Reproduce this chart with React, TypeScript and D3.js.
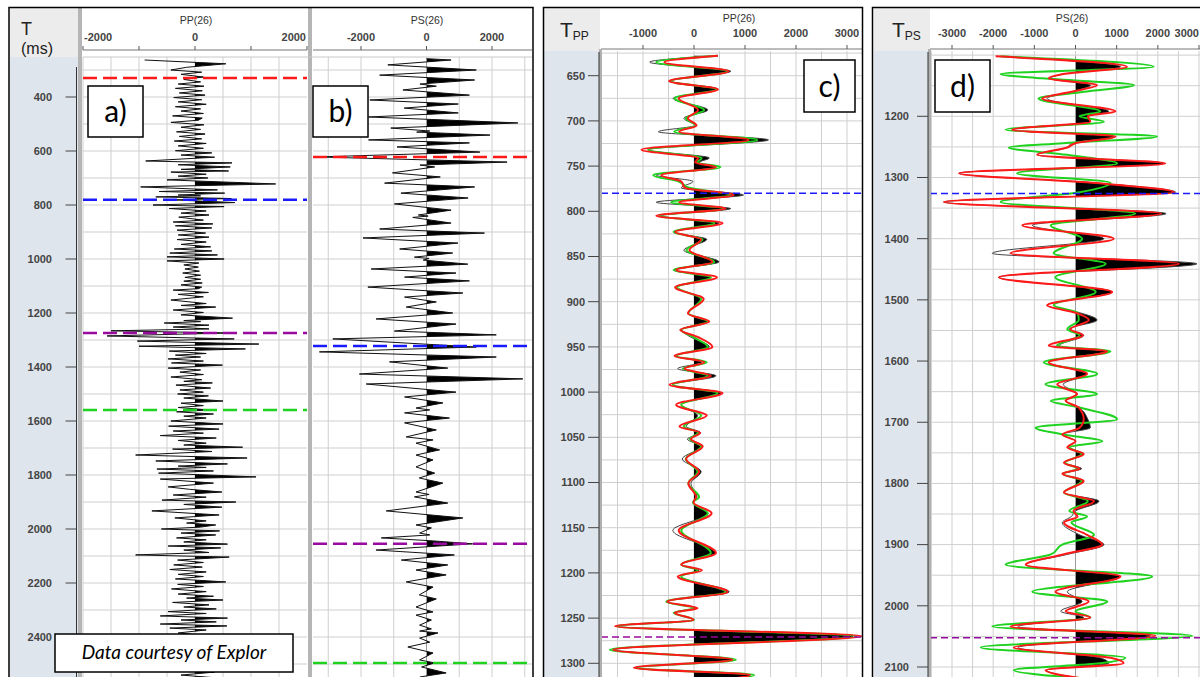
import React from "react";
import * as d3 from "d3";

type Pt = [number, number];

// panel a: PP trace (time ms, amplitude)
const aTrace: Pt[] = [
  [263,-900],[277,550],[290,-150],[300,-430],[308,120],[316,-250],[326,150],[335,-200],[344,100],[352,-300],
  [360,160],[368,-350],[377,130],[385,-280],[393,180],[402,-380],[410,120],[418,-300],[427,200],[436,-350],
  [444,100],[452,-250],[461,150],[470,-400],[478,130],[486,60],[494,-430],[503,160],[512,-250],[520,100],
  [529,-330],[537,180],[546,-280],[555,120],[563,-370],[572,200],[581,-300],[590,150],[599,-350],[607,300],
  [615,-250],[623,350],[637,-880],[644,660],[651,-300],[659,630],[668,-250],[674,600],[678,-430],[686,200],
  [693,-300],[700,230],[707,-500],[722,1440],[733,-970],[744,400],[750,-640],[756,530],[763,-300],[766,100],
  [770,-700],[776,650],[781,-400],[791,710],[800,-750],[806,520],[813,-460],[822,200],[830,-250],[837,250],
  [845,-290],[856,150],[863,-390],[870,320],[877,-350],[885,300],[893,-320],[904,190],[911,-300],[919,250],
  [928,-320],[937,200],[946,-250],[955,280],[963,-370],[970,300],[978,-450],[985,400],[992,-500],[1000,520],
  [1007,-500],[1015,70],[1022,-200],[1030,60],[1037,-180],[1045,80],[1052,-220],[1060,100],[1068,-180],[1075,100],
  [1082,-200],[1089,130],[1096,-250],[1104,120],[1110,60],[1115,-390],[1124,240],[1131,-300],[1140,150],[1152,-430],
  [1165,200],[1172,-250],[1178,370],[1189,-390],[1198,150],[1207,-250],[1219,670],[1228,-200],[1232,100],[1237,-550],
  [1245,250],[1252,-390],[1259,250],[1266,-1500],[1274,600],[1285,-1570],[1296,700],[1304,-1030],[1315,1140],[1323,-1000],
  [1333,900],[1341,-460],[1350,200],[1356,-350],[1363,100],[1370,-480],[1378,150],[1385,-420],[1393,490],[1404,-480],
  [1411,100],[1419,-270],[1428,150],[1437,-430],[1447,120],[1453,-200],[1459,310],[1467,-340],[1478,280],[1485,-270],
  [1493,150],[1500,-310],[1507,240],[1515,-200],[1526,500],[1534,-250],[1543,150],[1550,-300],[1559,250],[1566,-330],
  [1574,330],[1582,-200],[1589,200],[1600,-430],[1611,500],[1619,-470],[1630,430],[1637,-390],[1645,150],[1654,-620],
  [1663,380],[1672,-300],[1682,200],[1689,-200],[1697,850],[1704,-400],[1713,300],[1726,-1060],[1737,930],[1748,-700],
  [1759,580],[1767,-300],[1772,200],[1778,-680],[1785,330],[1793,-650],[1807,1090],[1815,-620],[1830,330],[1844,-480],
  [1853,-100],[1863,480],[1874,-390],[1882,200],[1893,-590],[1900,730],[1909,-200],[1919,480],[1933,-770],[1948,430],
  [1959,-360],[1970,200],[1978,-150],[1985,370],[1993,100],[2000,-600],[2007,440],[2015,-250],[2022,370],[2033,-330],
  [2040,200],[2048,-200],[2056,580],[2063,-480],[2070,460],[2078,-200],[2087,250],[2096,-1060],[2104,610],[2115,-310],
  [2124,150],[2133,-380],[2141,130],[2150,-450],[2159,200],[2168,-300],[2176,150],[2185,-350],[2196,550],[2205,-310],
  [2213,150],[2222,-420],[2232,200],[2241,-300],[2249,330],[2256,-150],[2263,500],[2272,-400],[2281,250],[2289,-200],
  [2296,380],[2306,-480],[2313,200],[2322,-620],[2330,580],[2337,-250],[2344,380],[2352,-620],[2359,570],[2367,-450],
  [2374,200],[2385,-300],[2396,250],[2407,-350],[2418,200],[2430,-300],[2441,250],[2452,-250],[2463,300],[2474,-350],
  [2485,200],[2496,-250],[2507,250],[2518,-300],[2530,350],[2541,-250],[2550,300],
];

// panel b: PS trace
const bTrace: Pt[] = [
  [258,0],[263,750],[281,-1180],[300,1520],[319,-1430],[337,1470],[352,-200],[360,300],[374,-720],[393,1310],
  [411,-1730],[426,970],[441,-680],[459,970],[474,-1770],[496,2790],[515,-1090],[526,100],[530,-300],[541,1940],
  [559,-1770],[570,1310],[585,-900],[604,1630],[622,-3330],[641,2460],[652,-200],[659,250],[681,-1040],[696,420],
  [719,-1280],[733,1470],[756,-780],[774,1270],[796,-980],[819,750],[837,-250],[841,50],[846,-420],[867,750],
  [889,-1430],[904,1770],[922,-1940],[941,960],[963,-820],[978,800],[993,-370],[998,80],[1004,-100],[1019,1260],
  [1037,-1690],[1052,900],[1067,-670],[1081,1310],[1104,-1790],[1126,1110],[1141,-670],[1159,300],[1178,-620],[1200,800],
  [1222,-1540],[1241,900],[1267,-980],[1281,2130],[1296,-2860],[1326,1520],[1344,-3270],[1363,2130],[1381,-1130],[1404,650],
  [1426,-2050],[1444,2940],[1463,-1840],[1493,900],[1511,-670],[1533,500],[1552,-320],[1559,100],[1570,-670],[1589,700],
  [1607,-670],[1633,300],[1659,-620],[1670,200],[1682,-320],[1707,400],[1726,-320],[1744,200],[1770,-320],[1793,250],
  [1811,-220],[1830,500],[1863,-320],[1872,80],[1881,-370],[1904,650],[1933,-1230],[1959,1110],[1985,-320],[1996,150],
  [2015,-210],[2022,100],[2033,-1380],[2044,200],[2055,1410],[2078,-1540],[2096,850],[2115,-770],[2133,650],[2152,-320],
  [2170,600],[2196,-620],[2215,200],[2244,-220],[2259,300],[2289,-320],[2307,200],[2319,-320],[2337,150],[2356,-210],
  [2370,150],[2378,-210],[2385,350],[2404,-210],[2419,100],[2437,-570],[2459,200],[2485,-210],[2496,250],[2511,-150],
  [2533,600],[2548,-200],
];

// panel c: PP real (black), red and green modelled traces
const cTimes = [628,635,645,656,665,675,688,697,705,712,721,732,741,746,751,760,767,774,782,790,797,805,813,823,831,843,856,865,873,884,897,913,922,931,939,950,960,967,974,982,992,1001,1014,1026,1038,1045,1052,1060,1074,1088,1101,1116,1122,1134,1153,1178,1191,1197,1204,1221,1232,1239,1244,1252,1259,1270,1285,1296,1305,1313,1322];
const cBlack = [470,-870,720,-450,470,-410,270,-200,20,-700,1460,-900,300,100,430,-740,-20,-250,970,-740,720,-640,490,-400,250,-200,490,-400,330,-330,140,-110,270,-250,-70,300,-350,150,-320,430,-415,525,-250,70,-150,130,-130,140,-230,140,-60,60,-20,270,-415,430,-250,100,-300,690,-520,60,-380,-20,-1500,3120,-1550,760,-1150,1100,-500];
const cRed = [470,-580,680,-490,470,-300,80,-120,50,-290,1070,-1030,80,20,430,-640,-250,-180,780,-290,620,-740,560,-370,140,-90,360,-350,450,-370,190,-120,300,-270,70,360,-380,200,-190,330,-480,560,-350,250,-285,120,-60,170,-155,100,-110,40,-10,345,-300,430,-250,155,-320,660,-525,70,-380,-10,-1550,3290,-1585,755,-1180,1100,-500];
const cGreen = [470,-740,650,-470,440,-380,200,-160,30,-390,1240,-900,150,60,520,-800,-300,-100,720,-450,590,-680,400,-400,170,-150,400,-400,330,-330,140,-110,270,-250,-20,270,-350,250,-220,270,-415,460,-250,140,-200,80,-80,140,-160,70,-110,100,-20,270,-250,330,-250,70,-250,620,-545,10,-400,0,-1520,3190,-1650,820,-1130,1180,-500];

// panel d: PS real (black), red and green modelled traces
const dTimes = [1102,1119,1131,1138,1149,1160,1171,1192,1200,1209,1222,1233,1244,1251,1263,1277,1293,1309,1324,1340,1359,1378,1400,1424,1441,1463,1487,1509,1521,1533,1548,1558,1575,1584,1602,1621,1638,1654,1665,1676,1695,1709,1720,1731,1741,1752,1766,1776,1784,1796,1815,1829,1845,1854,1864,1884,1900,1916,1933,1952,1977,1993,2009,2019,2034,2049,2068,2085,2094,2105,2120];
const dBlack = [-1900,1090,-300,-610,365,-100,-690,810,300,360,-1540,930,-100,-200,-930,2140,-2830,500,2430,-3200,2200,-1050,690,-2020,2950,-1860,890,-690,100,525,-160,200,-400,730,-650,280,-300,40,-240,80,300,360,-320,0,-200,200,-280,150,-320,200,-280,570,0,-100,-320,100,690,-200,-1210,1090,-200,160,-360,200,-1400,1820,-1400,600,810,-700,300];
const dRed = [-1940,1250,-300,-650,525,-100,-810,970,300,360,-1540,970,0,-200,-930,2180,-2830,500,2390,-3200,2080,-1290,930,-1580,2510,-1860,890,-690,0,325,-120,180,-650,770,-650,280,-445,40,-240,80,200,100,-320,0,-200,200,-280,100,-320,200,-280,450,-50,50,-280,280,650,-300,-1210,1090,-485,320,-240,360,-1580,1940,-1500,850,1170,-730,300];
const dGreen = [-1820,1900,-1820,-800,1420,200,-900,600,100,690,-1700,1980,-300,-1620,-200,1010,-1420,850,100,-1820,1450,-600,160,-530,730,-490,490,-530,50,80,-200,100,-450,850,-770,525,-730,525,-600,100,1010,-970,-300,650,-150,150,-250,50,-300,150,-280,300,-150,280,-100,450,-320,-600,-1700,1860,-1050,770,0,360,-2020,2830,-2300,1210,600,-1500,500];

const abTimeTicks = [400,600,800,1000,1200,1400,1600,1800,2000,2200,2400];
const cTimeTicks = [650,700,750,800,850,900,950,1000,1050,1100,1150,1200,1250,1300];
const dTimeTicks = [1200,1300,1400,1500,1600,1700,1800,1900,2000,2100];

const RED = "#ff1a1a";
const GREEN = "#1fd21f";
const BLUE = "#1a1aff";
const PURPLE = "#9a0aa0";
const FONT = "'Liberation Sans', Arial, sans-serif";
const LABEL_FONT = "Lato, 'Open Sans', sans-serif";

interface Horizon { t: number; color: string }
interface Overlay { values: number[]; color: string }

interface TrackCfg {
  id: string;
  left: number; right: number; top: number; bottom: number;
  ampDomain: [number, number]; ampRange: [number, number];
  tDomain: [number, number]; tRange: [number, number];
  ampGrid: number; tGrid: number;
  ampTicks: number[]; ampLabels: number[];
  title: string; titleX: number; titleY: number; labelY: number; axisY: number;
  clampLabels: boolean;
  times: number[]; main: number[]; smooth: boolean;
  overlays: Overlay[];
  horizons: Horizon[];
  dash: string; dashWidth: number;
}

function Track({ cfg }: { cfg: TrackCfg }) {
  const x = d3.scaleLinear().domain(cfg.ampDomain).range(cfg.ampRange);
  const t = d3.scaleLinear().domain(cfg.tDomain).range(cfg.tRange);
  const aMin = x.invert(cfg.left), aMax = x.invert(cfg.right);
  const tMin = t.invert(cfg.top), tMax = t.invert(cfg.bottom);
  const vGrid = d3.range(Math.ceil(aMin / cfg.ampGrid) * cfg.ampGrid, aMax, cfg.ampGrid);
  const hGrid = d3.range(Math.ceil(tMin / cfg.tGrid) * cfg.tGrid, tMax, cfg.tGrid);
  const curve = cfg.smooth ? d3.curveMonotoneY : d3.curveLinear;
  const idx = cfg.times.map((_, i) => i);
  const linePath = (vals: number[]) =>
    d3.line<number>().x((i) => x(vals[i])).y((i) => t(cfg.times[i])).curve(curve)(idx) ?? "";
  const areaPath =
    d3.area<number>().y((i) => t(cfg.times[i])).x0(x(0)).x1((i) => x(cfg.main[i])).curve(curve)(idx) ?? "";

  return (
    <g>
      <defs>
        <clipPath id={`${cfg.id}-box`}>
          <rect x={cfg.left} y={cfg.top} width={cfg.right - cfg.left} height={cfg.bottom - cfg.top} />
        </clipPath>
        <clipPath id={`${cfg.id}-pos`}>
          <rect x={x(0)} y={cfg.top} width={cfg.right - x(0)} height={cfg.bottom - cfg.top} />
        </clipPath>
      </defs>
      <rect x={cfg.left} y={cfg.top} width={cfg.right - cfg.left} height={cfg.bottom - cfg.top} fill="#fff" />
      {vGrid.map((v) => (
        <line key={`v${v}`} x1={x(v)} x2={x(v)} y1={cfg.top} y2={cfg.bottom} stroke="#cfcfcf" strokeWidth={1} />
      ))}
      {hGrid.map((v) => (
        <line key={`h${v}`} x1={cfg.left} x2={cfg.right} y1={t(v)} y2={t(v)} stroke="#cfcfcf" strokeWidth={1} />
      ))}
      {/* header axis */}
      <text x={cfg.titleX} y={cfg.titleY} textAnchor="middle" fontFamily={FONT} fontSize={10.5} fill="#333">
        {cfg.title}
      </text>
      <line x1={cfg.left} x2={cfg.right} y1={cfg.axisY} y2={cfg.axisY} stroke="#777" strokeWidth={1} />
      {cfg.ampTicks.map((v) => (
        <line key={`tk${v}`} x1={x(v)} x2={x(v)} y1={cfg.axisY - 4} y2={cfg.axisY} stroke="#555" />
      ))}
      {cfg.ampLabels.map((v) => {
        const label = String(v);
        const w = label.length * 6.3;
        let lx = x(v);
        let anchor: "start" | "middle" | "end" = "middle";
        if (cfg.clampLabels && lx - w / 2 < cfg.left) { lx = cfg.left + 1; anchor = "start"; }
        else if (cfg.clampLabels && lx + w / 2 > cfg.right) { lx = cfg.right - 1; anchor = "end"; }
        return (
          <text key={`lb${v}`} x={lx} y={cfg.labelY} textAnchor={anchor} fontFamily={FONT} fontSize={11} fontWeight="bold" fill="#444">
            {label}
          </text>
        );
      })}
      <g clipPath={`url(#${cfg.id}-box)`}>
        <g clipPath={`url(#${cfg.id}-pos)`}>
          <path d={areaPath} fill="#000" />
        </g>
        <path d={linePath(cfg.main)} fill="none" stroke={cfg.smooth ? "#444" : "#111"} strokeWidth={1} />
        {cfg.overlays.map((o) => (
          <path key={o.color} d={linePath(o.values)} fill="none" stroke={o.color} strokeWidth={2} />
        ))}
        {cfg.horizons.map((h) => (
          <line key={`hz${h.t}`} x1={cfg.left} x2={cfg.right} y1={t(h.t)} y2={t(h.t)} stroke={h.color}
            strokeWidth={cfg.dashWidth} strokeDasharray={cfg.dash} />
        ))}
      </g>
    </g>
  );
}

function TimeAxis({ x, top, bottom, tDomain, tRange, ticks, labelX }: {
  x: number; top: number; bottom: number; tDomain: [number, number]; tRange: [number, number];
  ticks: number[]; labelX: number;
}) {
  const t = d3.scaleLinear().domain(tDomain).range(tRange);
  return (
    <g>
      <line x1={x} x2={x} y1={top} y2={bottom} stroke="#333" strokeWidth={1} />
      {ticks.map((v) => (
        <g key={v}>
          <line x1={x - 11} x2={x} y1={t(v)} y2={t(v)} stroke="#444" />
          <text x={labelX} y={t(v)} dy="0.35em" textAnchor="end" fontFamily={FONT} fontSize={11} fontWeight="bold" fill="#444">
            {v}
          </text>
        </g>
      ))}
    </g>
  );
}

function LabelBox({ x, y, w, h, text }: { x: number; y: number; w: number; h: number; text: string }) {
  return (
    <g>
      <rect x={x} y={y} width={w} height={h} fill="#fff" stroke="#000" strokeWidth={1.5} />
      <text x={x + w / 2} y={y + h / 2} dy="0.36em" textAnchor="middle" fontFamily={LABEL_FONT} fontSize={30} fill="#000">
        {text}
      </text>
    </g>
  );
}

const aCfg: TrackCfg = {
  id: "ta", left: 83, right: 307, top: 57, bottom: 677,
  ampDomain: [-2000, 2000], ampRange: [83, 307], tDomain: [400, 2400], tRange: [97, 637],
  ampGrid: 500, tGrid: 100, ampTicks: [-2000, -1000, 0, 1000, 2000], ampLabels: [-2000, 0, 2000],
  title: "PP(26)", titleX: 196, titleY: 24, labelY: 41, axisY: 50, clampLabels: true,
  times: aTrace.map((d) => d[0]), main: aTrace.map((d) => d[1]), smooth: false, overlays: [],
  horizons: [{ t: 330, color: RED }, { t: 781, color: BLUE }, { t: 1274, color: PURPLE }, { t: 1559, color: GREEN }],
  dash: "14,6", dashWidth: 2.5,
};

const bCfg: TrackCfg = {
  id: "tb", left: 313, right: 532, top: 57, bottom: 677,
  ampDomain: [-2000, 2000], ampRange: [361, 492], tDomain: [400, 2400], tRange: [97, 637],
  ampGrid: 1000, tGrid: 100, ampTicks: [-2000, 0, 2000], ampLabels: [-2000, 0, 2000],
  title: "PS(26)", titleX: 427, titleY: 24, labelY: 41, axisY: 50, clampLabels: false,
  times: bTrace.map((d) => d[0]), main: bTrace.map((d) => d[1]), smooth: false, overlays: [],
  horizons: [{ t: 622, color: RED }, { t: 1322, color: BLUE }, { t: 2055, color: PURPLE }, { t: 2496, color: GREEN }],
  dash: "14,6", dashWidth: 2.5,
};

const cCfg: TrackCfg = {
  id: "tc", left: 601, right: 862, top: 51, bottom: 677,
  ampDomain: [-1000, 3000], ampRange: [643, 847], tDomain: [650, 1300], tRange: [75.7, 663.3],
  ampGrid: 500, tGrid: 25, ampTicks: [-1000, 0, 1000, 2000, 3000], ampLabels: [-1000, 0, 1000, 2000, 3000],
  title: "PP(26)", titleX: 739, titleY: 22, labelY: 37, axisY: 49, clampLabels: false,
  times: cTimes, main: cBlack, smooth: true,
  overlays: [{ values: cGreen, color: GREEN }, { values: cRed, color: RED }],
  horizons: [{ t: 780, color: BLUE }, { t: 1271, color: PURPLE }],
  dash: "7,4", dashWidth: 1.5,
};

const dCfg: TrackCfg = {
  id: "td", left: 930, right: 1200, top: 51, bottom: 677,
  ampDomain: [-3000, 3000], ampRange: [952, 1199], tDomain: [1200, 2100], tRange: [116.3, 667],
  ampGrid: 500, tGrid: 50, ampTicks: [-3000, -2000, -1000, 0, 1000, 2000, 3000],
  ampLabels: [-3000, -2000, -1000, 0, 1000, 2000, 3000],
  title: "PS(26)", titleX: 1072, titleY: 22, labelY: 37, axisY: 49, clampLabels: true,
  times: dTimes, main: dBlack, smooth: true,
  overlays: [{ values: dGreen, color: GREEN }, { values: dRed, color: RED }],
  horizons: [{ t: 1326, color: BLUE }, { t: 2052, color: PURPLE }],
  dash: "7,4", dashWidth: 1.5,
};

export default function App() {
  return (
    <>
      <style>{`body{margin:0;background:#fff}`}</style>
      <svg width={1200} height={677} style={{ display: "block" }}>
        <rect x={0} y={0} width={1200} height={677} fill="#fff" />

        {/* panel a + b */}
        <rect x={10} y={8} width={68} height={669} fill="#dfe5ec" />
        <rect x={10} y={8} width={68} height={49} fill="#ececec" />
        <rect x={83} y={8} width={449} height={49} fill="#fff" />
        <Track cfg={aCfg} />
        <Track cfg={bCfg} />
        <rect x={78} y={8} width={4} height={669} fill="#b5b5b5" />
        <rect x={308} y={8} width={4} height={669} fill="#b5b5b5" />
        <line x1={83} x2={532} y1={57} y2={57} stroke="#c8c8c8" />
        <TimeAxis x={76.5} top={67} bottom={677} tDomain={[400, 2400]} tRange={[97, 637]} ticks={abTimeTicks} labelX={52} />
        <text x={21} y={35} fontFamily={FONT} fontSize={18} fill="#222">T</text>
        <text x={21} y={54} fontFamily={FONT} fontSize={16} fill="#222">(ms)</text>
        <rect x={9} y={7.5} width={524} height={680} fill="none" stroke="#000" strokeWidth={1.5} />
        <LabelBox x={88} y={86} w={55} h={51} text="a)" />
        <LabelBox x={313} y={86} w={55} h={51} text="b)" />
        <rect x={55} y={634} width={238} height={38} fill="#fff" stroke="#000" strokeWidth={1.5} />
        <text x={174} y={659} textAnchor="middle" fontFamily={LABEL_FONT} fontStyle="italic" fontSize={19} fill="#000">
          Data courtesy of Explor
        </text>

        {/* panel c */}
        <rect x={544} y={8} width={56} height={669} fill="#dfe5ec" />
        <rect x={544} y={8} width={56} height={43} fill="#ececec" />
        <Track cfg={cCfg} />
        <rect x={599} y={49} width={3} height={628} fill="#b0b0b0" />
        <TimeAxis x={599} top={52} bottom={677} tDomain={[650, 1300]} tRange={[75.7, 663.3]} ticks={cTimeTicks} labelX={585} />
        <text x={560} y={37} fontFamily={FONT} fontSize={21} fill="#222">
          T<tspan fontSize={12} dy={3}>PP</tspan>
        </text>
        <rect x={543.5} y={7.5} width={319} height={680} fill="none" stroke="#000" strokeWidth={1.5} />
        <LabelBox x={804} y={60} w={51} h={52} text="c)" />

        {/* panel d */}
        <rect x={874} y={8} width={56} height={669} fill="#dfe5ec" />
        <rect x={874} y={8} width={56} height={43} fill="#ececec" />
        <Track cfg={dCfg} />
        <rect x={928} y={49} width={3} height={628} fill="#b0b0b0" />
        <TimeAxis x={928} top={52} bottom={677} tDomain={[1200, 2100]} tRange={[116.3, 667]} ticks={dTimeTicks} labelX={909} />
        <text x={892} y={37} fontFamily={FONT} fontSize={21} fill="#222">
          T<tspan fontSize={12} dy={3}>PS</tspan>
        </text>
        <rect x={872.5} y={7.5} width={400} height={680} fill="none" stroke="#000" strokeWidth={1.5} />
        <LabelBox x={935} y={60} w={55} h={52} text="d)" />
      </svg>
    </>
  );
}
